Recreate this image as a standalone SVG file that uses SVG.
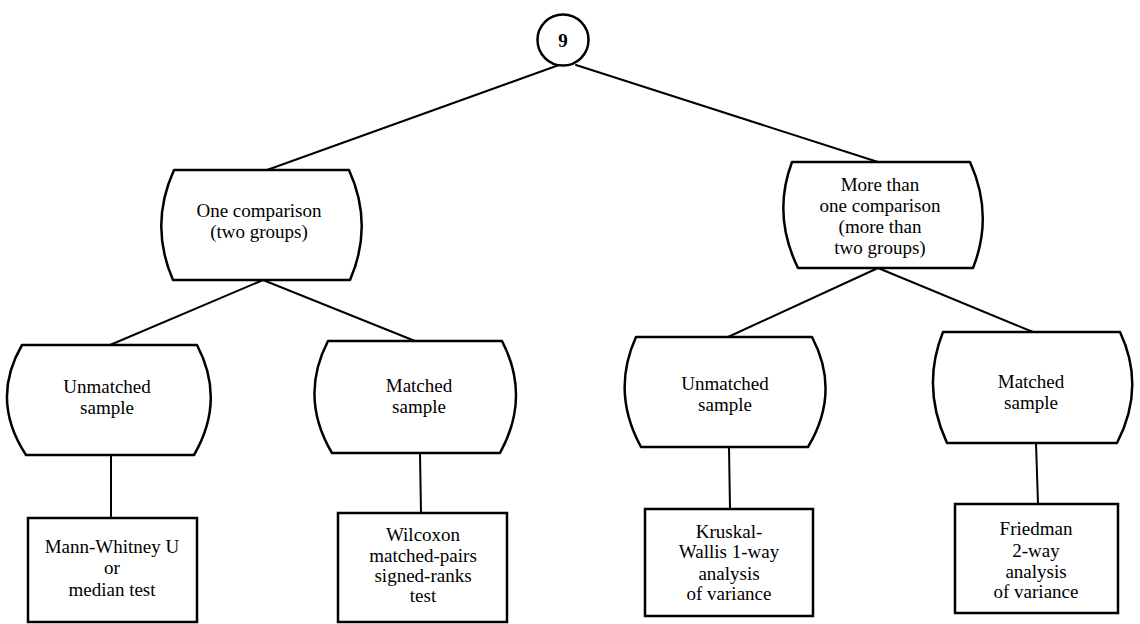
<svg xmlns="http://www.w3.org/2000/svg" width="1140" height="624" viewBox="0 0 1140 624">
  <style>
    .edge { stroke: #000; stroke-width: 2; fill: none; stroke-linecap: round; }
    .node { stroke: #000; stroke-width: 2.5; fill: #fff; stroke-linejoin: round; }
    .box { stroke: #000; stroke-width: 2.5; fill: #fff; }
    .lbl { font-family: "Liberation Serif", "DejaVu Serif", serif; font-size: 19px; fill: #000; text-anchor: middle; }
    .num { font-family: "Liberation Serif", serif; font-size: 19px; font-weight: bold; fill: #000; text-anchor: middle; }
  </style>

  <!-- connectors -->
  <g id="connectors">
    <line class="edge" x1="559" y1="65" x2="267" y2="170"/>
    <line class="edge" x1="576" y1="65" x2="878" y2="162"/>
    <line class="edge" x1="263" y1="280" x2="110" y2="345"/>
    <line class="edge" x1="263" y1="280" x2="415" y2="341"/>
    <line class="edge" x1="878" y1="268" x2="728" y2="337"/>
    <line class="edge" x1="878" y1="268" x2="1033" y2="332"/>
    <line class="edge" x1="111" y1="455" x2="111" y2="518"/>
    <line class="edge" x1="420" y1="453" x2="421" y2="513"/>
    <line class="edge" x1="729" y1="447" x2="730" y2="509"/>
    <line class="edge" x1="1036" y1="443" x2="1038" y2="504"/>
  </g>

  <!-- root -->
  <g id="root">
    <circle cx="563" cy="40" r="25.5" fill="#fff" stroke="#000" stroke-width="2.5"/>
    <text class="num" x="563" y="47">9</text>
  </g>

  <!-- decision nodes: straight top and bottom, bulging sides -->
  <g id="one-comparison">
    <path class="node" d="M174,170 L349,170 Q374,225 350,280 L173,280 Q149,225 174,170 Z"/>
    <text class="lbl" x="259" y="217">One comparison</text>
    <text class="lbl" x="259" y="238">(two groups)</text>
  </g>

  <g id="more-than-one">
    <path class="node" d="M792,162 L970,162 Q994,215 973,268 L798,268 Q772,215 792,162 Z"/>
    <text class="lbl" x="880" y="191">More than</text>
    <text class="lbl" x="880" y="212">one comparison</text>
    <text class="lbl" x="880" y="233">(more than</text>
    <text class="lbl" x="880" y="254">two groups)</text>
  </g>

  <g id="unmatched-left">
    <path class="node" d="M22,345 L197,345 Q226,400 194,455 L26,455 Q-10,400 22,345 Z"/>
    <text class="lbl" x="107" y="393">Unmatched</text>
    <text class="lbl" x="107" y="414">sample</text>
  </g>

  <g id="matched-left">
    <path class="node" d="M328,341 L502,341 Q531,397 500,453 L332,453 Q299,397 328,341 Z"/>
    <text class="lbl" x="419" y="392">Matched</text>
    <text class="lbl" x="419" y="413">sample</text>
  </g>

  <g id="unmatched-right">
    <path class="node" d="M636,337 L812,337 Q841,392 808,447 L641,447 Q611,392 636,337 Z"/>
    <text class="lbl" x="725" y="390">Unmatched</text>
    <text class="lbl" x="725" y="411">sample</text>
  </g>

  <g id="matched-right">
    <path class="node" d="M943,332 L1120,332 Q1146,387 1117,443 L947,443 Q921,387 943,332 Z"/>
    <text class="lbl" x="1031" y="388">Matched</text>
    <text class="lbl" x="1031" y="409">sample</text>
  </g>

  <!-- tests -->
  <g id="mann-whitney">
    <rect class="box" x="28" y="518" width="169" height="104"/>
    <text class="lbl" x="112" y="553">Mann-Whitney U</text>
    <text class="lbl" x="112" y="574">or</text>
    <text class="lbl" x="112" y="596">median test</text>
  </g>

  <g id="wilcoxon">
    <rect class="box" x="338" y="513" width="169" height="109"/>
    <text class="lbl" x="423" y="541">Wilcoxon</text>
    <text class="lbl" x="423" y="562">matched-pairs</text>
    <text class="lbl" x="423" y="582">signed-ranks</text>
    <text class="lbl" x="423" y="602">test</text>
  </g>

  <g id="kruskal-wallis">
    <rect class="box" x="645" y="509" width="168" height="107"/>
    <text class="lbl" x="729" y="538">Kruskal-</text>
    <text class="lbl" x="729" y="558">Wallis 1-way</text>
    <text class="lbl" x="729" y="580">analysis</text>
    <text class="lbl" x="729" y="600">of variance</text>
  </g>

  <g id="friedman">
    <rect class="box" x="955" y="504" width="163" height="109"/>
    <text class="lbl" x="1036" y="535">Friedman</text>
    <text class="lbl" x="1036" y="557">2-way</text>
    <text class="lbl" x="1036" y="578">analysis</text>
    <text class="lbl" x="1036" y="598">of variance</text>
  </g>
</svg>
